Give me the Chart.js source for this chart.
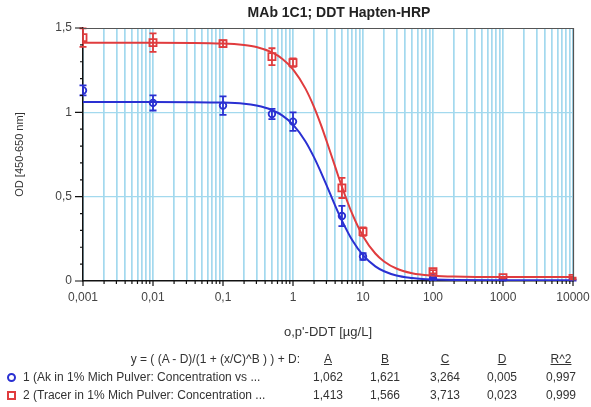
<!DOCTYPE html>
<html>
<head>
<meta charset="utf-8">
<script src="https://cdn.jsdelivr.net/npm/chart.js@4.4.1/dist/chart.umd.min.js"></script>
<style>
body { margin: 0; background: #fff; font-family: "Liberation Sans", Arial, sans-serif; }
#wrap { position: relative; width: 591px; height: 407px; }
.t { position: absolute; font-size: 12px; line-height: 14px; color: #333; white-space: nowrap; }
.mid { transform: translateX(-50%); }
.u { text-decoration: underline; }
.mk { position: absolute; width: 5px; height: 5px; }
#title { position: absolute; left: 339px; top: 4px; transform: translateX(-50%); font-size: 14px; line-height: 17px; font-weight: bold; color: #222; white-space: nowrap; }
</style>
</head>
<body>
<div id="wrap">
  <canvas id="chart" width="591" height="407"></canvas>
  <div id="title"></div>
  <div id="table"></div>
</div>
<script>
// measured points (concentration in µg/L)
var concX = [0.001, 0.01, 0.1, 0.5, 1, 5, 10, 100, 1000, 10000];
var akY   = [1.13, 1.056, 1.04, 0.99, 0.945, 0.385, 0.145, 0.015, 0.006, 0.005];
var akErr = [0.03, 0.045, 0.055, 0.03, 0.055, 0.06, 0.02, 0.005, 0.003, 0.003];
var trY   = [1.443, 1.413, 1.407, 1.33, 1.295, 0.552, 0.293, 0.055, 0.02, 0.015];
var trErr = [0.055, 0.055, 0.02, 0.05, 0.025, 0.06, 0.025, 0.01, 0.005, 0.005];

// fitted curves
var fitX  = [0.001, 0.01, 0.1, 0.2, 0.3, 0.5, 0.7, 1, 1.5, 2, 2.5, 3, 4, 5, 7, 10, 15, 20, 30, 50, 70, 100, 200, 1000, 10000];
var akFit = [1.062, 1.062, 1.058, 1.051, 1.040, 1.014, 0.982, 0.927, 0.829, 0.733, 0.646, 0.570, 0.447, 0.358, 0.243, 0.153, 0.087, 0.058, 0.033, 0.018, 0.012, 0.009, 0.006, 0.005, 0.005];
var trFit = [1.413, 1.413, 1.408, 1.399, 1.387, 1.355, 1.318, 1.255, 1.142, 1.031, 0.927, 0.833, 0.678, 0.559, 0.399, 0.266, 0.163, 0.116, 0.074, 0.046, 0.037, 0.031, 0.026, 0.023, 0.023];

var xDecades = [0.001, 0.01, 0.1, 1, 10, 100, 1000, 10000];
var xTickLabels = ["0,001", "0,01", "0,1", "1", "10", "100", "1000", "10000"];
var yTickValues = [0, 0.5, 1, 1.5];
var yTickLabels = ["0", "0,5", "1", "1,5"];

var chartTitle = "MAb 1C1; DDT Hapten-HRP";
var seriesNames = ["1 (Ak in 1% Mich Pulver: Concentration vs ...", "2 (Tracer in 1% Mich Pulver: Concentration ..."];
var paramNames = ["A", "B", "C", "D", "R^2"];
var akParams = ["1,062", "1,621", "3,264", "0,005", "0,997"];
var trParams = ["1,413", "1,566", "3,713", "0,023", "0,999"];
var equation = "y = ( (A - D)/(1 + (x/C)^B ) ) + D:";

var blue = "#2a30d2";
var red = "#e03c3e";
var gridBlue = "#a3d9ee";

function pts(xs, ys) {
  return xs.map(function (x, i) { return {x: x, y: ys[i]}; });
}

var errorBars = {
  id: "errorBars",
  afterDatasetsDraw: function (chart) {
    var ctx = chart.ctx, xs = chart.scales.x, ys = chart.scales.y;
    var sets = [[akY, akErr, blue], [trY, trErr, red]];
    ctx.save();
    ctx.lineWidth = 1.8;
    sets.forEach(function (s) {
      ctx.strokeStyle = s[2];
      concX.forEach(function (x, i) {
        var px = xs.getPixelForValue(x);
        var y1 = ys.getPixelForValue(s[0][i] + s[1][i]);
        var y2 = ys.getPixelForValue(s[0][i] - s[1][i]);
        ctx.beginPath();
        ctx.moveTo(px, y1); ctx.lineTo(px, y2);
        ctx.moveTo(px - 3.5, y1); ctx.lineTo(px + 3.5, y1);
        ctx.moveTo(px - 3.5, y2); ctx.lineTo(px + 3.5, y2);
        ctx.stroke();
      });
    });
    ctx.restore();
  }
};

var frameAndTicks = {
  id: "frameAndTicks",
  afterDraw: function (chart) {
    var ctx = chart.ctx, a = chart.chartArea, xs = chart.scales.x, ys = chart.scales.y;
    ctx.save();
    ctx.strokeStyle = "#555";
    ctx.lineWidth = 1.2;
    ctx.beginPath();
    ctx.moveTo(a.left, a.top + 0.5); ctx.lineTo(a.right + 0.5, a.top + 0.5); ctx.lineTo(a.right + 0.5, a.bottom);
    ctx.stroke();
    ctx.strokeStyle = "#111";
    ctx.lineWidth = 1.2;
    ctx.beginPath();
    xs.ticks.forEach(function (t) {
      var px = xs.getPixelForValue(t.value);
      ctx.moveTo(px, a.bottom); ctx.lineTo(px, a.bottom + (t.major ? 5 : 3));
    });
    ys.ticks.forEach(function (t) {
      var py = ys.getPixelForValue(t.value);
      var major = Math.abs(t.value * 2 - Math.round(t.value * 2)) < 1e-6;
      ctx.moveTo(a.left, py); ctx.lineTo(a.left - (major ? 8 : 3), py);
    });
    ctx.stroke();
    ctx.restore();
  }
};

new Chart(document.getElementById("chart"), {
  type: "scatter",
  data: {
    datasets: [
      {data: pts(fitX, akFit), showLine: true, borderColor: blue, borderWidth: 2, pointRadius: 0, cubicInterpolationMode: "monotone"},
      {data: pts(fitX, trFit), showLine: true, borderColor: red, borderWidth: 2, pointRadius: 0, cubicInterpolationMode: "monotone"},
      {data: pts(concX, akY), pointStyle: "circle", pointRadius: 3.3, borderWidth: 1.8, borderColor: blue, backgroundColor: "rgba(255,255,255,0)"},
      {data: pts(concX, trY), pointStyle: "rect", pointRadius: 5, borderWidth: 1.8, borderColor: red, backgroundColor: "rgba(255,255,255,0)"}
    ]
  },
  options: {
    responsive: false,
    devicePixelRatio: 1,
    animation: false,
    layout: {padding: {top: 28, right: 18, bottom: 66, left: 0}},
    plugins: {
      legend: {display: false},
      tooltip: {enabled: false},
      title: {display: false}
    },
    scales: {
      x: {
        type: "logarithmic",
        min: 0.001,
        max: 10000,
        afterBuildTicks: function (scale) {
          var list = [];
          xDecades.forEach(function (d, i) {
            list.push({value: d, major: true});
            if (i < xDecades.length - 1) {
              for (var m = 2; m <= 9; m++) list.push({value: d * m, major: false});
            }
          });
          scale.ticks = list;
        },
        afterFit: function (scale) {
          scale.height = 60;
          scale.paddingLeft = 0;
          scale.paddingRight = 0;
        },
        ticks: {
          autoSkip: false,
          maxRotation: 0,
          padding: 9,
          color: "#444",
          font: {family: "Liberation Sans", size: 12},
          callback: function (v) {
            var i = xDecades.indexOf(v);
            return i >= 0 ? xTickLabels[i] : "";
          }
        },
        grid: {color: gridBlue, lineWidth: 1.7, drawTicks: false},
        border: {color: "#111", width: 1.5},
        title: {
          display: true,
          text: "o,p'-DDT [µg/L]",
          color: "#333",
          font: {family: "Liberation Sans", size: 13},
          padding: {top: 0, bottom: 1}
        }
      },
      y: {
        min: 0,
        max: 1.5,
        afterFit: function (scale) { scale.width = 83; },
        ticks: {
          stepSize: 0.1,
          autoSkip: false,
          padding: 11,
          color: "#444",
          font: {family: "Liberation Sans", size: 12},
          callback: function (v) {
            for (var i = 0; i < yTickValues.length; i++) {
              if (Math.abs(v - yTickValues[i]) < 1e-6) return yTickLabels[i];
            }
            return "";
          }
        },
        grid: {
          drawTicks: false,
          lineWidth: 1.3,
          color: function (c) {
            var v = c.tick ? c.tick.value : 0;
            return (Math.abs(v - 0.5) < 1e-6 || Math.abs(v - 1) < 1e-6) ? gridBlue : "rgba(0,0,0,0)";
          }
        },
        border: {color: "#111", width: 1.5},
        title: {
          display: true,
          text: "OD [450-650 nm]",
          color: "#333",
          font: {family: "Liberation Sans", size: 11},
          padding: {top: 13, bottom: 0}
        }
      }
    }
  },
  plugins: [errorBars, frameAndTicks]
});

document.getElementById("title").textContent = chartTitle;

// fit table under the chart
var colCenters = [328, 385, 445, 502, 561];
var html = '<div class="t" style="right:291px;top:352px;">' + equation + '</div>';
paramNames.forEach(function (p, i) {
  html += '<div class="t mid u" style="left:' + colCenters[i] + 'px;top:352px;">' + p + '</div>';
});
[[seriesNames[0], akParams, blue, "50%", 370], [seriesNames[1], trParams, red, "0", 388]].forEach(function (r) {
  html += '<div class="mk" style="left:7px;top:' + (r[4] + 3) + 'px;border:2px solid ' + r[2] + ';border-radius:' + r[3] + ';"></div>';
  html += '<div class="t" style="left:23px;top:' + r[4] + 'px;">' + r[0] + '</div>';
  r[1].forEach(function (v, i) {
    html += '<div class="t mid" style="left:' + colCenters[i] + 'px;top:' + r[4] + 'px;">' + v + '</div>';
  });
});
document.getElementById("table").innerHTML = html;
</script>
</body>
</html>
